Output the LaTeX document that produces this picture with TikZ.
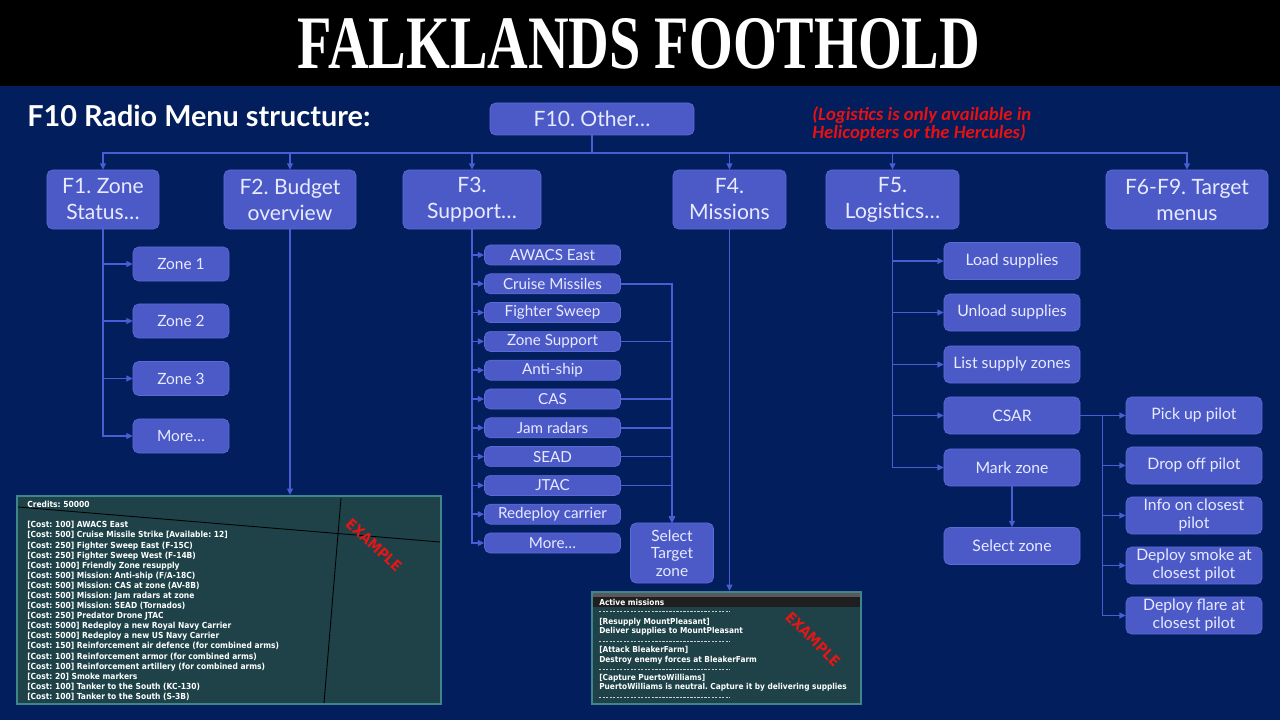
\documentclass[tikz,border=0pt]{standalone}
\usepackage{graphicx}
\usepackage{fontspec}
\setmainfont{Lato}
\newfontfamily\notefont{Carlito}
\newfontfamily\dcsfont{DejaVu Sans Condensed}
\newfontfamily\titlefont{Liberation Serif}
\usetikzlibrary{arrows.meta}
\definecolor{navy}{RGB}{2,30,92}
\definecolor{boxblue}{RGB}{76,90,200}
\definecolor{boxedge}{RGB}{90,106,214}
\definecolor{linkblue}{RGB}{74,94,212}
\definecolor{boxtext}{RGB}{232,234,255}
\definecolor{panelteal}{RGB}{30,66,72}
\definecolor{paneledge}{RGB}{62,134,140}
\definecolor{notered}{RGB}{232,16,16}
\definecolor{stampred}{RGB}{228,22,22}
\newcommand\costline[2]{[Cost: #1] #2}
\frenchspacing
\begin{document}
\begin{tikzpicture}[x=0.025cm, y=-0.025cm,
    box/.style={draw=boxedge, fill=boxblue, rounded corners=4pt, text=boxtext,
      inner sep=0pt, align=center, line width=0.5pt},
    topbox/.style={box, minimum height=1.475cm, font=\fontsize{15}{18.5}\selectfont},
    zonebox/.style={box, minimum width=2.4cm, minimum height=0.85cm, font=\fontsize{11}{12.8}\selectfont},
    supbox/.style={box, minimum width=3.4cm, minimum height=0.5cm, font=\fontsize{10.8}{12}\selectfont},
    subbox/.style={box, minimum width=3.4cm, minimum height=0.925cm, font=\fontsize{11.2}{12.8}\selectfont},
    link/.style={draw=linkblue, line width=1pt},
    arr/.style={link, -{Triangle[length=4.5pt,width=4.2pt]}},
    panel/.style={fill=panelteal, draw=paneledge, line width=1.6pt, inner sep=0pt},
    paneltext/.style={text=white, font=\dcsfont\bfseries\fontsize{5.95}{7.18}\selectfont,
      align=left, inner sep=0pt},
    missiontext/.style={paneltext, font=\dcsfont\bfseries\fontsize{5.85}{6.75}\selectfont},
    stamp/.style={text=stampred, font=\dcsfont\bfseries\fontsize{10.5}{12}\selectfont}]
  \useasboundingbox (0,0) rectangle (1280,720);
  \fill[navy] (0,0) rectangle (1280,720);
  \fill[black] (0,0) rectangle (1280,86);

  \draw
    (639,44) node[text=white, inner sep=0pt] (title)
      {\titlefont\bfseries\resizebox{17.05cm}{1.25cm}{FALKLANDS FOOTHOLD}}
    (27,116) node[anchor=west, inner sep=0pt, text=white,
      font=\bfseries\fontsize{20.5}{23}\selectfont] (head) {F10 Radio Menu structure:}
    (812,124) node[anchor=west, inner sep=0pt, align=left, text=notered,
      font=\notefont\bfseries\itshape\fontsize{13.3}{12.2}\selectfont] (note)
      {(Logistics is only available in\\Helicopters or the Hercules)};

  \draw
    (592,119) node[box, minimum width=5.1cm, minimum height=0.8cm,
      font=\fontsize{15}{16}\selectfont] (f10) {F10. Other…}
    (103,199.5) node[topbox, minimum width=2.8cm] (f1) {F1. Zone\\Status…}
    (290,199.5) node[topbox, minimum width=3.3cm] (f2) {F2. Budget\\overview}
    (472,199.5) node[topbox, minimum width=3.45cm] (f3) {F3.\\Support…}
    (729.5,199.5) node[topbox, minimum width=2.825cm] (f4) {F4.\\Missions}
    (892.5,199.5) node[topbox, minimum width=3.325cm] (f5) {F5.\\Logistics…}
    (1187,199.5) node[topbox, minimum width=4.05cm] (f6) {F6-F9. Target\\menus};
  \coordinate (bus) at (592,153);

  \draw
    (181,264) node[zonebox] (z1) {Zone 1}
    (181,321) node[zonebox] (z2) {Zone 2}
    (181,378.5) node[zonebox] (z3) {Zone 3}
    (181,436) node[zonebox] (z4) {More…};

  \draw
    (552.5,255) node[supbox] (s1) {AWACS East}
    (552.5,283.8) node[supbox] (s2) {Cruise Missiles}
    (552.5,312.6) node[supbox] (s3) {Fighter Sweep}
    (552.5,341.4) node[supbox] (s4) {Zone Support}
    (552.5,370.2) node[supbox] (s5) {Anti-ship}
    (552.5,399) node[supbox] (s6) {CAS}
    (552.5,427.8) node[supbox] (s7) {Jam radars}
    (552.5,456.6) node[supbox] (s8) {SEAD}
    (552.5,485.4) node[supbox] (s9) {JTAC}
    (552.5,514.2) node[supbox] (s10) {Redeploy carrier}
    (552.5,543) node[supbox] (s11) {More…}
    (672,553) node[box, minimum width=2.075cm, minimum height=1.5cm,
      font=\fontsize{11}{12.5}\selectfont] (tz) {Select\\Target\\zone};

  \draw
    (1012,261) node[subbox] (l1) {Load supplies}
    (1012,312.5) node[subbox] (l2) {Unload supplies}
    (1012,364.5) node[subbox] (l3) {List supply zones}
    (1012,415.5) node[subbox] (l4) {CSAR}
    (1012,467.5) node[subbox] (l5) {Mark zone}
    (1012,546) node[subbox] (l6) {Select zone}
    (1194,415.5) node[subbox] (c1) {Pick up pilot}
    (1194,465.5) node[subbox] (c2) {Drop off pilot}
    (1194,515.5) node[subbox] (c3) {Info on closest\\pilot}
    (1194,565.5) node[subbox] (c4) {Deploy smoke at\\closest pilot}
    (1194,615.5) node[subbox] (c5) {Deploy flare at\\closest pilot};
  \coordinate (cj) at (1102.5,415.5);

  % budget screenshot
  \node[panel, minimum width=10.6cm, minimum height=5.2cm] (credits) at (229,600) {};
  \draw[black, line width=0.6pt] (18,507) -- (440,542) (341,498) -- (324,703);
  \node[paneltext, anchor=north west] (creditlist) at (27,501)
    {Credits: 50000\\ \mbox{}\\
     \costline{100}{AWACS East}\\
     \costline{500}{Cruise Missile Strike [Available: 12]}\\
     \costline{250}{Fighter Sweep East (F-15C)}\\
     \costline{250}{Fighter Sweep West (F-14B)}\\
     \costline{1000}{Friendly Zone resupply}\\
     \costline{500}{Mission: Anti-ship (F/A-18C)}\\
     \costline{500}{Mission: CAS at zone (AV-8B)}\\
     \costline{500}{Mission: Jam radars at zone}\\
     \costline{500}{Mission: SEAD (Tornados)}\\
     \costline{250}{Predator Drone JTAC}\\
     \costline{5000}{Redeploy a new Royal Navy Carrier}\\
     \costline{5000}{Redeploy a new US Navy Carrier}\\
     \costline{150}{Reinforcement air defence (for combined arms)}\\
     \costline{100}{Reinforcement armor (for combined arms)}\\
     \costline{100}{Reinforcement artillery (for combined arms)}\\
     \costline{20}{Smoke markers}\\
     \costline{100}{Tanker to the South (KC-130)}\\
     \costline{100}{Tanker to the South (S-3B)}};
  \node[stamp, rotate=-43] (stamp1) at (374,545) {EXAMPLE};

  % missions screenshot
  \node[panel, minimum width=6.725cm, minimum height=2.8cm] (missions) at (726.5,648) {};
  \fill[gray!70!black] (593,593) rectangle (860,597);
  \fill[black!88] (593,597) rectangle (860,607);
  \node[missiontext, anchor=west] (mhead) at (599,602) {Active missions};
  \draw[white!75!panelteal, line width=0.6pt, dash pattern=on 1.6pt off 0.9pt]
    (599,611.7) -- (730,611.7) (599,641.7) -- (730,641.7)
    (599,669.3) -- (730,669.3) (599,697.3) -- (730,697.3);
  \node[missiontext, anchor=west] (m1) at (599,626.7)
    {\relax[Resupply MountPleasant]\\Deliver supplies to MountPleasant};
  \node[missiontext, anchor=west] (m2) at (599,655.2)
    {\relax[Attack BleakerFarm]\\Destroy enemy forces at BleakerFarm};
  \node[missiontext, anchor=west] (m3) at (599,683)
    {\relax[Capture PuertoWilliams]\\PuertoWilliams is neutral. Capture it by delivering supplies};
  \node[stamp, rotate=-45] (stamp2) at (813,639) {EXAMPLE};

  \begin{scope}[link]
    \draw (f10) -- (bus);
    \draw (l4) -- (cj);
  \end{scope}
  \begin{scope}[arr]
    \draw (bus) -| (f1);
    \draw (bus) -| (f2);
    \draw (bus) -| (f3);
    \draw (bus) -| (f4);
    \draw (bus) -| (f5);
    \draw (bus) -| (f6);
    \draw (f1) |- (z1);
    \draw (f1) |- (z2);
    \draw (f1) |- (z3);
    \draw (f1) |- (z4);
    \draw (f2) -- (f2 |- credits.north);
    \draw (f3) |- (s1);
    \draw (f3) |- (s2);
    \draw (f3) |- (s3);
    \draw (f3) |- (s4);
    \draw (f3) |- (s5);
    \draw (f3) |- (s6);
    \draw (f3) |- (s7);
    \draw (f3) |- (s8);
    \draw (f3) |- (s9);
    \draw (f3) |- (s10);
    \draw (f3) |- (s11);
    \draw (s2) -| (tz);
    \draw (s4) -| (tz);
    \draw (s6) -| (tz);
    \draw (s7) -| (tz);
    \draw (s8) -| (tz);
    \draw (s9) -| (tz);
    \draw (f4) -- (f4 |- missions.north);
    \draw (f5) |- (l1);
    \draw (f5) |- (l2);
    \draw (f5) |- (l3);
    \draw (f5) |- (l4);
    \draw (f5) |- (l5);
    \draw (l5) -- (l6);
    \draw (cj) |- (c1);
    \draw (cj) |- (c2);
    \draw (cj) |- (c3);
    \draw (cj) |- (c4);
    \draw (cj) |- (c5);
  \end{scope}
\end{tikzpicture}
\end{document}
